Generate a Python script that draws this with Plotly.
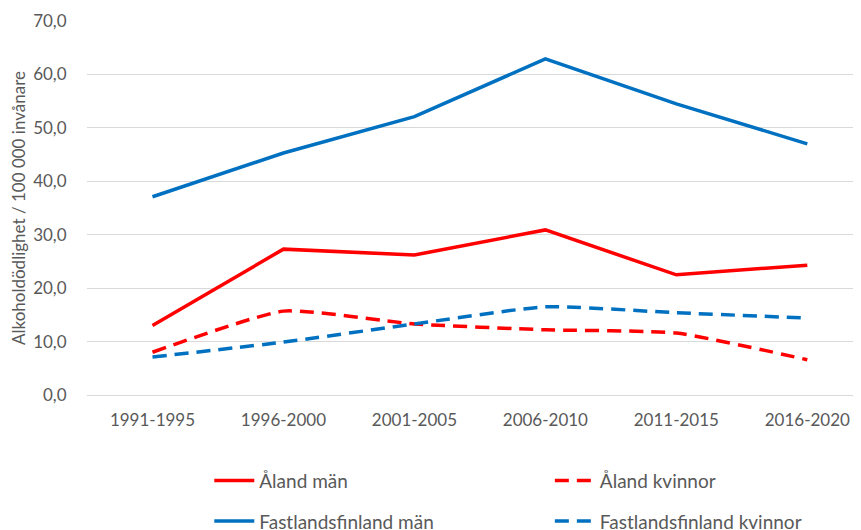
import plotly.graph_objects as go

perioder = ["1991-1995", "1996-2000", "2001-2005", "2006-2010", "2011-2015", "2016-2020"]

aland_man = [13.0, 27.3, 26.2, 30.9, 22.5, 24.3]
aland_kvinnor = [8.0, 15.7, 13.3, 12.2, 11.6, 6.6]
fastland_man = [37.1, 45.3, 52.1, 62.9, 54.5, 47.0]
fastland_kvinnor = [7.1, 9.9, 13.3, 16.5, 15.4, 14.4]

ROD = "#FF0000"
BLA = "#0070C0"
GRA = "#595959"
FONT = "Lato"

fig = go.Figure()

# kolumn 1 i legenden: män, kolumn 2: kvinnor
fig.add_trace(go.Scatter(x=perioder, y=aland_man, name="Åland män", mode="lines",
                         line=dict(color=ROD, width=3.5), legend="legend", legendgroup="a"))
fig.add_trace(go.Scatter(x=perioder, y=fastland_man, name="Fastlandsfinland män", mode="lines",
                         line=dict(color=BLA, width=3.5), legend="legend", legendgroup="b"))
fig.add_trace(go.Scatter(x=perioder, y=aland_kvinnor, name="Åland kvinnor", mode="lines",
                         line=dict(color=ROD, width=3.5, dash="14px,8px", shape="spline", smoothing=0.5),
                         legend="legend2", legendgroup="c"))
fig.add_trace(go.Scatter(x=perioder, y=fastland_kvinnor, name="Fastlandsfinland kvinnor", mode="lines",
                         line=dict(color=BLA, width=3.5, dash="14px,8px", shape="spline", smoothing=0.5),
                         legend="legend2", legendgroup="d"))

leg = dict(orientation="v", yanchor="top", xanchor="left", y=-0.178,
           font=dict(family=FONT, size=19, color=GRA), tracegroupgap=13,
           itemwidth=40, bgcolor="rgba(0,0,0,0)")

# sidan har 8 px marginal i webbläsaren, därför 853x522
fig.update_layout(
    width=853, height=522,
    margin=dict(l=79, r=0, t=13, b=135, autoexpand=False),
    plot_bgcolor="white", paper_bgcolor="white",
    font=dict(family=FONT, size=17, color=GRA),
    separators=", ",
    legend=dict(leg, x=0.158),
    legend2=dict(leg, x=0.598),
    showlegend=True,
)

fig.update_xaxes(
    range=[-0.5, 5.41], showgrid=False, showline=False, zeroline=False,
    ticks="outside", ticklen=10, tickcolor="rgba(0,0,0,0)", automargin=False,
    tickfont=dict(family=FONT, size=17, color=GRA),
)
fig.update_yaxes(
    range=[0, 70], dtick=10, tickformat=".1f", automargin=False,
    showgrid=True, gridcolor="#D9D9D9", gridwidth=1,
    zeroline=True, zerolinecolor="#D9D9D9", zerolinewidth=1,
    showline=False, ticks="outside", ticklen=16, tickcolor="rgba(0,0,0,0)",
    tickfont=dict(family=FONT, size=17, color=GRA),
    title=dict(text="Alkoholdödlighet / 100 000 invånare", standoff=10,
               font=dict(family=FONT, size=17, color=GRA)),
)

fig.write_html("out.html")
